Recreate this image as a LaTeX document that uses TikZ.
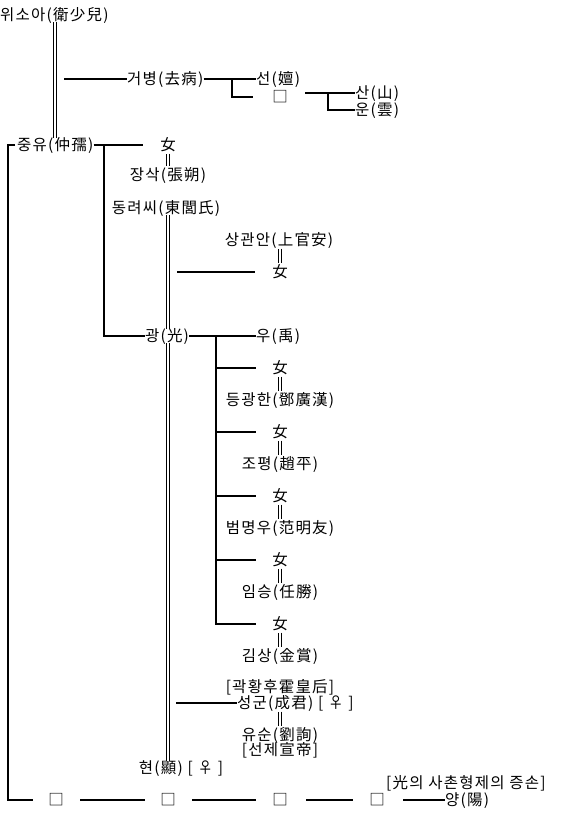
\documentclass[tikz,border=0pt]{standalone}
\usepackage{fontspec}
\newfontfamily\kr[LetterSpace=8]{Noto Sans CJK KR}
\begin{document}
\begin{tikzpicture}[x=1pt,y=-1pt,
  lbl/.style={inner sep=0pt, font=\kr\fontsize{15.5}{16}\selectfont, text height=12pt, text depth=2pt},
  lnk/.style={line width=1.8pt},
  mar/.style={double, double distance=2pt, line width=1pt},
  eq/.style={double, double distance=2pt, line width=1pt, shorten <=1.5pt, shorten >=1.5pt},
  box/.style={lbl}]
\useasboundingbox (0,0) rectangle (572,822);
% nodes
\node[lbl,anchor=west] (wi) at (0,15) {위소아(衛少兒)};
\node[lbl,anchor=west] (geo) at (127,79) {거병(去病)};
\node[lbl,anchor=west] (seon) at (256,79) {선(嬗)};
\node[box] (sq1) at (280,97) {□};
\node[lbl,anchor=west] (san) at (355,93) {산(山)};
\node[lbl,anchor=west] (un) at (355,110) {운(雲)};
\node[lbl,anchor=west] (jung) at (17,145) {중유(仲孺)};
\node[lbl] (ny0) at (168,145) {女};
\node[lbl] (jangsak) at (168,175) {장삭(張朔)};
\node[lbl] (dong) at (166,208) {동려씨(東閭氏)};
\node[lbl] (sanggwan) at (279,240) {상관안(上官安)};
\node[lbl] (ny1) at (280,272) {女};
\node[lbl] (gwang) at (167,336) {광(光)};
\node[lbl,anchor=west] (u) at (256,336) {우(禹)};
\node[lbl] (ny2) at (280,368) {女};
\node[lbl] (sp2) at (280,400) {등광한(鄧廣漢)};
\node[lbl] (ny3) at (280,432) {女};
\node[lbl] (sp3) at (280,464) {조평(趙平)};
\node[lbl] (ny4) at (280,496) {女};
\node[lbl] (sp4) at (280,528) {범명우(范明友)};
\node[lbl] (ny5) at (280,560) {女};
\node[lbl] (sp5) at (280,592) {임승(任勝)};
\node[lbl] (ny6) at (280,624) {女};
\node[lbl] (sp6) at (280,656) {김상(金賞)};
\node[lbl] (gwak) at (280,687) {[곽황후霍皇后]};
\node[lbl,anchor=west] (seong) at (237,703) {성군(成君) [ ♀ ]};
\node[lbl] (yusun) at (280,735) {유순(劉詢)};
\node[lbl] (seonje) at (280,750) {[선제宣帝]};
\node[lbl] (hyeon) at (181,768) {현(顯) [ ♀ ]};
\node[lbl,anchor=west] (desc) at (386,783) {[光의 사촌형제의 증손]};
\node[box] (b1) at (56,800) {□};
\node[box] (b2) at (168,800) {□};
\node[box] (b3) at (280,800) {□};
\node[box] (b4) at (377,800) {□};
\node[lbl,anchor=west] (yang) at (445,800) {양(陽)};
% coordinates
\coordinate (g0) at (64,79);
\coordinate (s0) at (232,79);
\coordinate (s1) at (253,97);
\coordinate (t0) at (305,93);
\coordinate (t1) at (328,93);
\coordinate (j1) at (143,145);
\coordinate (j2) at (104,145);
\coordinate (k0) at (177,272);
\coordinate (k1) at (255,272);
\coordinate (v0) at (216,336);
\coordinate (m0) at (176,703);
\coordinate (l0) at (8,145);
\coordinate (l1) at (8,800);
\coordinate (l2) at (33,800);
% marriage / descent double lines
\draw[mar] (wi.south -| 55,0) -- (jung.north -| 55,0);
\draw[mar] (dong.south -| 168,0) -- (gwang.north -| 168,0);
\draw[mar] (gwang.south -| 168,0) -- (hyeon.north -| 168,0);
\draw[eq] (ny0.south) -- (jangsak.north);
\draw[eq] (sanggwan.south -| 280,0) -- (ny1.north);
\draw[eq] (ny2.south) -- (sp2.north);
\draw[eq] (ny3.south) -- (sp3.north);
\draw[eq] (ny4.south) -- (sp4.north);
\draw[eq] (ny5.south) -- (sp5.north);
\draw[eq] (ny6.south) -- (sp6.north);
\draw[eq] (seong.south -| 280,0) -- (yusun.north);
% lines
\draw[lnk] (g0) -- (geo.west);
\draw[lnk] (geo.east) -- (seon.west);
\draw[lnk] (s0) |- (s1);
\draw[lnk] (t0) -- (san.west);
\draw[lnk] (t1) |- (un.west);
\draw[lnk] (jung.east) -- (j1);
\draw[lnk] (j2) |- (gwang.west);
\draw[lnk] (k0) -- (k1);
\draw[lnk] (gwang.east) -- (u.west);
\draw[lnk] (v0) |- (ny6.west -| 256,0);
\foreach \n in {2,3,4,5} \draw[lnk] (v0 |- ny\n) -- (ny\n.west -| 256,0);
\draw[lnk] (l0) ++(7,0) -- (l0) -- (l1) -- (l2);
\draw[lnk] (m0) -- (seong.west);
\draw[lnk] (80,800) -- (145,800);
\draw[lnk] (192,800) -- (256,800);
\draw[lnk] (306,800) -- (353,800);
\draw[lnk] (403,800) -- (yang.west);
\end{tikzpicture}
\end{document}
